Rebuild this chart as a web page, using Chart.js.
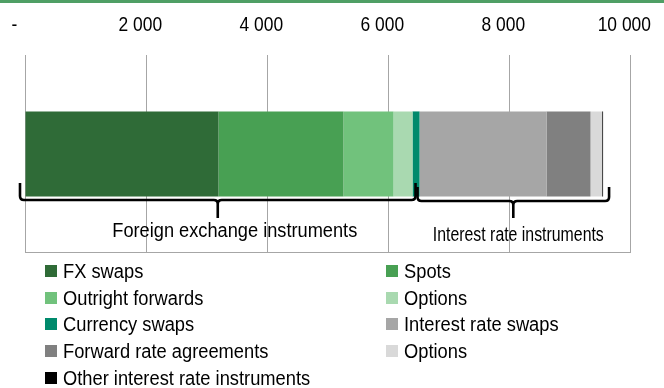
<!DOCTYPE html>
<html>
<head>
<meta charset="utf-8">
<script src="https://cdn.jsdelivr.net/npm/chart.js@4/dist/chart.umd.min.js"></script>
<style>
  html, body { margin: 0; padding: 0; background: #fff; }
  body { width: 664px; height: 388px; position: relative; overflow: hidden;
         font-family: "Liberation Sans", Arial, sans-serif; }
  #topline { position: absolute; left: 0; top: 0; width: 664px; height: 3px; background: #4f9f65; }
  #wrap { position: absolute; left: 0; top: 0; width: 664px; height: 260px; }
  #legend { position: absolute; left: 0; top: 0; width: 664px; height: 388px; pointer-events: none; }
  .item { position: absolute; font-size: 20px; line-height: 20px; color: #000; white-space: nowrap; }
  .box { position: absolute; width: 12px; height: 12px; top: 4px; }
  .lbl { position: absolute; top: 0; display: inline-block; transform: scaleX(0.915); transform-origin: left center; }
</style>
</head>
<body>
<div id="topline"></div>
<div id="wrap"><canvas id="myChart"></canvas></div>
<div id="legend"></div>
<script>
// segments of the single stacked bar (left to right)
const segment_names = ["FX swaps", "Spots", "Outright forwards", "Options", "Currency swaps",
  "Interest rate swaps", "Forward rate agreements", "Options", "Other interest rate instruments"];
const segment_values = [3198, 2066, 827, 314, 116, 2099, 727, 193, 15];
const segment_colors = ["#2f6b37", "#48a053", "#71c27c", "#a9d9b0", "#008a6c",
  "#a6a6a6", "#808080", "#d9d9d9", "#000000"];
// which group each segment belongs to
const segment_groups = [0, 0, 0, 0, 0, 1, 1, 1, 1];
const group_names = ["Foreign exchange instruments", "Interest rate instruments"];
const tick_values = [0, 2000, 4000, 6000, 8000, 10000];
const tick_labels = ["-", "2 000", "4 000", "6 000", "8 000", "10 000"];

const FONT = "'Liberation Sans', Arial, sans-serif";

// narrow tick labels above the plot (Excel accounting style, sit a bit left of the gridline)
const tickPlugin = {
  id: "narrowTicks",
  afterDraw(chart) {
    const ctx = chart.ctx;
    const x = chart.scales.x;
    ctx.save();
    ctx.fillStyle = "#000";
    ctx.font = "20px " + FONT;
    ctx.textAlign = "center";
    ctx.textBaseline = "middle";
    tick_values.forEach((v, i) => {
      const px = x.getPixelForValue(v) - (i == 0 ? 10.5 : 5.7);
      ctx.save();
      ctx.translate(px, 25);
      ctx.scale(0.87, 1);
      ctx.fillText(tick_labels[i], 0, 0);
      ctx.restore();
    });
    ctx.restore();
  }
};

// curly braces under the bar with group titles
const bracePlugin = {
  id: "braces",
  afterDraw(chart) {
    const ctx = chart.ctx;
    const x = chart.scales.x;
    const area = chart.chartArea;

    // bottom border of the plot
    ctx.save();
    ctx.strokeStyle = "#a6a6a6";
    ctx.lineWidth = 1;
    ctx.beginPath();
    ctx.moveTo(area.left, Math.round(area.bottom) - 0.5);
    ctx.lineTo(area.right + 1, Math.round(area.bottom) - 0.5);
    ctx.stroke();

    let fxTotal = 0, total = 0;
    segment_values.forEach((v, i) => {
      total += v;
      if (segment_groups[i] == 0) fxTotal += v;
    });

    const braces = [
      { x1: x.getPixelForValue(0) - 5, x2: x.getPixelForValue(fxTotal) - 4, top: 183, h: 200, tip: 218,
        text: group_names[0], dx: 17, ty: 231, maxW: 245 },
      { x1: x.getPixelForValue(fxTotal) - 2, x2: x.getPixelForValue(total) + 6, top: 187, h: 201, tip: 218,
        text: group_names[1], dx: 5, ty: 235, maxW: 171 }
    ];

    ctx.strokeStyle = "#000";
    ctx.lineWidth = 2.6;
    ctx.lineJoin = "round";
    braces.forEach(b => {
      const r = 4;
      const mid = (b.x1 + b.x2) / 2;
      ctx.beginPath();
      ctx.moveTo(b.x1, b.top);
      ctx.lineTo(b.x1, b.h - r);
      ctx.quadraticCurveTo(b.x1, b.h, b.x1 + r, b.h);
      ctx.lineTo(mid - r, b.h);
      ctx.quadraticCurveTo(mid, b.h, mid, b.h + r);
      ctx.lineTo(mid, b.tip);
      ctx.moveTo(mid, b.h + r);
      ctx.quadraticCurveTo(mid, b.h, mid + r, b.h);
      ctx.lineTo(b.x2 - r, b.h);
      ctx.quadraticCurveTo(b.x2, b.h, b.x2, b.h - r);
      ctx.lineTo(b.x2, b.top);
      ctx.stroke();

      ctx.fillStyle = "#000";
      ctx.font = "20px " + FONT;
      ctx.textAlign = "center";
      ctx.textBaseline = "middle";
      ctx.fillText(b.text, mid + b.dx, b.ty, b.maxW);
    });
    ctx.restore();
  }
};

const datasets = segment_names.map((name, i) => ({
  label: name,
  data: [segment_values[i]],
  backgroundColor: segment_colors[i],
  borderWidth: 0,
  barPercentage: 0.43,
  categoryPercentage: 1
}));

const ctx = document.getElementById("myChart").getContext("2d");
const my_chart = new Chart(ctx, {
  type: "bar",
  data: { labels: [""], datasets: datasets },
  plugins: [tickPlugin, bracePlugin],
  options: {
    indexAxis: "y",
    responsive: true,
    maintainAspectRatio: false,
    animation: false,
    layout: { padding: { left: 25, right: 34, top: 0, bottom: 7 } },
    plugins: {
      legend: { display: false },
      tooltip: { enabled: false }
    },
    scales: {
      x: {
        position: "top",
        stacked: true,
        min: 0,
        max: 10000,
        afterBuildTicks: (axis) => { axis.ticks = tick_values.map(v => ({ value: v })); },
        afterFit: (axis) => {
          axis.height = 55;
          axis.paddingLeft = 0;
          axis.paddingRight = 0;
        },
        ticks: { display: false },
        grid: { color: "#a6a6a6", lineWidth: 1, drawTicks: false },
        border: { display: false }
      },
      y: {
        stacked: true,
        display: false
      }
    }
  }
});

// two-column legend
const legend = document.getElementById("legend");
segment_names.forEach((name, i) => {
  const col = i % 2, row = Math.floor(i / 2);
  const item = document.createElement("div");
  item.className = "item";
  item.style.left = (col == 0 ? 45 : 386) + "px";
  item.style.top = (261 + row * 26.7) + "px";
  item.innerHTML = '<span class="box" style="left:0;background:' + segment_colors[i] + '"></span>' +
    '<span class="lbl" style="left:18px">' + name + '</span>';
  legend.appendChild(item);
});
</script>
</body>
</html>
